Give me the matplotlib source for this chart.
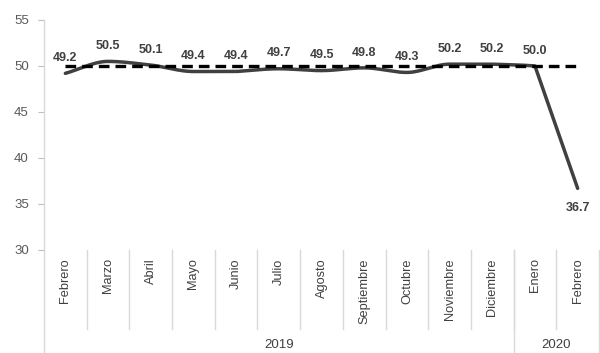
import numpy as np
import matplotlib
matplotlib.use("Agg")
import matplotlib.pyplot as plt
from matplotlib.transforms import blended_transform_factory

plt.rcParams['font.family'] = ['Liberation Sans', 'DejaVu Sans']

months = ["Febrero", "Marzo", "Abril", "Mayo", "Junio", "Julio", "Agosto",
          "Septiembre", "Octubre", "Noviembre", "Diciembre", "Enero", "Febrero"]
years = ["2019", "2020"]
year_counts = [11, 2]
values = [49.2, 50.5, 50.1, 49.4, 49.4, 49.7, 49.5, 49.8, 49.3, 50.2, 50.2, 50.0, 36.7]
threshold = [50.0] * len(values)
yticks = [30, 35, 40, 45, 50, 55]


def smooth(x, y, n=30):
    x = np.asarray(x, float)
    y = np.asarray(y, float)
    h = np.diff(x)
    delta = np.diff(y) / h
    dl = np.zeros_like(y)  # slope arriving at point
    dr = np.zeros_like(y)  # slope leaving point
    for k in range(1, len(y) - 1):
        if delta[k - 1] * delta[k] > 0:
            s = 2.0 / (1.0 / delta[k - 1] + 1.0 / delta[k])
        else:
            s = 0.0
        dl[k] = dr[k] = s
        # sharp break: leave along the chord of the steep segment
        if abs(delta[k]) > 5 * abs(delta[k - 1]):
            dr[k] = delta[k]
    dr[0] = dl[0] = delta[0]
    dl[-1] = dr[-1] = delta[-1]
    xs, ys = [], []
    for k in range(len(x) - 1):
        t = np.linspace(0, 1, n)
        h00 = 2 * t**3 - 3 * t**2 + 1
        h10 = t**3 - 2 * t**2 + t
        h01 = -2 * t**3 + 3 * t**2
        h11 = t**3 - t**2
        xs.append(x[k] + t * h[k])
        ys.append(h00 * y[k] + h10 * h[k] * dr[k] + h01 * y[k + 1] + h11 * h[k] * dl[k + 1])
    return np.concatenate(xs), np.concatenate(ys)


fig = plt.figure(figsize=(6.0, 3.53), dpi=100)
ax = fig.add_axes([44 / 600, 1 - 250 / 353, 555 / 600, 230 / 353])

xpos = np.arange(len(values))
sx, sy = smooth(xpos, values)
ax.plot(sx, sy, color='#404040', lw=2.5, solid_capstyle='round', solid_joinstyle='round', zorder=2)
ax.plot(xpos, threshold, color='black', lw=2.4, dashes=(3.2, 1.8), zorder=3)

for i, v in enumerate(values):
    off = 11 if i < len(values) - 1 else -14
    ax.annotate(f"{v:.1f}", (i, v), xytext=(0, off), textcoords='offset points',
                ha='center', va='center', fontsize=9, fontweight='bold', color='#404040')

ax.set_xlim(-0.5, len(values) - 0.5)
ax.set_ylim(30, 55)
ax.set_yticks(yticks)
ax.set_yticklabels([str(t) for t in yticks])
ax.tick_params(axis='y', length=4, width=0.8, color='#bfbfbf', pad=7,
               labelsize=9.5, labelcolor='#595959')

ax.set_xticks(xpos)
ax.set_xticklabels(months, rotation=90, va='top', ha='center')
ax.tick_params(axis='x', length=0, pad=6, labelsize=9.2, labelcolor='#404040')

for s in ['top', 'right', 'bottom']:
    ax.spines[s].set_visible(False)
ax.spines['left'].set_color('#d9d9d9')
ax.spines['left'].set_linewidth(1)

tr = blended_transform_factory(ax.transData, ax.transAxes)
short = -79 / 230
full = -103 / 230
for b in np.arange(0.5, len(values) - 0.5, 1.0):
    ax.plot([b, b], [0, short], transform=tr, color='#d9d9d9', lw=1, clip_on=False)
edges = np.concatenate([[0], np.cumsum(year_counts)]) - 0.5
for e in edges:
    ax.plot([e, e], [0, full], transform=tr, color='#d9d9d9', lw=1, clip_on=False)
for k, yr in enumerate(years):
    c = (edges[k] + edges[k + 1]) / 2
    ax.text(c, -95 / 230, yr, transform=tr, ha='center', va='center',
            fontsize=9.5, color='#404040')

fig.savefig("out.png", dpi=100)
